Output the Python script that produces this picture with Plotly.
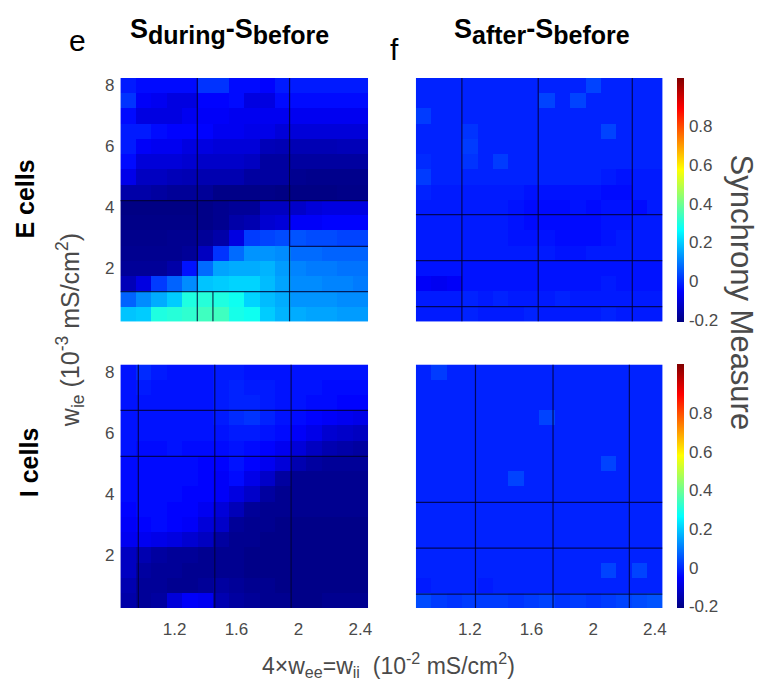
import plotly.graph_objects as go

# ---------------- data ----------------
w_ii = [0.9, 1.0, 1.1, 1.2, 1.3, 1.4, 1.5, 1.6, 1.7, 1.8, 1.9, 2.0, 2.1, 2.2, 2.3, 2.4]
w_ie = [0.5, 1.0, 1.5, 2.0, 2.5, 3.0, 3.5, 4.0, 4.5, 5.0, 5.5, 6.0, 6.5, 7.0, 7.5, 8.0]

x_tick_vals = [1.2, 1.6, 2.0, 2.4]
x_tick_text = ["1.2", "1.6", "2", "2.4"]
y_tick_vals = [2, 4, 6, 8]
y_tick_text = ["2", "4", "6", "8"]
cbar_tick_vals = [-0.2, 0, 0.2, 0.4, 0.6, 0.8]
cbar_tick_text = ["-0.2", "0", "0.2", "0.4", "0.6", "0.8"]

# E cells, S_during - S_before (rows: w_ie ascending)
e_during = [
    [0.19, 0.20, 0.30, 0.31, 0.32, 0.34, 0.34, 0.29, 0.28, 0.20, 0.17, 0.16, 0.15, 0.15, 0.14, 0.14],
    [0.07, 0.12, 0.16, 0.20, 0.30, 0.31, 0.30, 0.28, 0.21, 0.18, 0.16, 0.13, 0.13, 0.13, 0.12, 0.12],
    [-0.14, -0.09, 0.02, 0.07, 0.12, 0.19, 0.20, 0.21, 0.21, 0.18, 0.15, 0.12, 0.12, 0.11, 0.11, 0.10],
    [-0.18, -0.18, -0.18, -0.16, -0.03, 0.08, 0.15, 0.16, 0.16, 0.17, 0.14, 0.11, 0.10, 0.10, 0.09, 0.09],
    [-0.19, -0.19, -0.19, -0.19, -0.18, -0.13, 0.01, 0.08, 0.13, 0.13, 0.12, 0.08, 0.08, 0.07, 0.07, 0.07],
    [-0.195, -0.195, -0.195, -0.19, -0.19, -0.18, -0.16, -0.09, 0.02, 0.03, 0.04, 0.05, 0.04, 0.04, 0.03, 0.03],
    [-0.20, -0.20, -0.20, -0.20, -0.20, -0.20, -0.19, -0.16, -0.15, -0.11, -0.10, -0.06, -0.06, -0.05, -0.05, -0.05],
    [-0.205, -0.205, -0.205, -0.205, -0.205, -0.20, -0.19, -0.18, -0.18, -0.13, -0.13, -0.12, -0.10, -0.09, -0.09, -0.09],
    [-0.16, -0.16, -0.17, -0.18, -0.18, -0.18, -0.20, -0.20, -0.20, -0.20, -0.205, -0.205, -0.205, -0.205, -0.20, -0.20],
    [-0.08, -0.13, -0.13, -0.14, -0.145, -0.15, -0.15, -0.15, -0.17, -0.17, -0.17, -0.19, -0.195, -0.195, -0.195, -0.195],
    [-0.04, -0.10, -0.10, -0.10, -0.11, -0.12, -0.12, -0.12, -0.13, -0.17, -0.17, -0.17, -0.17, -0.17, -0.17, -0.17],
    [-0.02, -0.06, -0.07, -0.07, -0.09, -0.09, -0.10, -0.10, -0.10, -0.14, -0.145, -0.145, -0.145, -0.145, -0.14, -0.14],
    [-0.02, -0.02, -0.04, -0.05, -0.05, -0.05, -0.07, -0.07, -0.08, -0.08, -0.10, -0.10, -0.10, -0.10, -0.10, -0.10],
    [-0.04, -0.09, -0.09, -0.09, -0.07, -0.06, -0.06, -0.07, -0.07, -0.07, -0.07, -0.07, -0.07, -0.07, -0.07, -0.07],
    [0.01, -0.06, -0.07, -0.09, -0.09, -0.05, -0.05, -0.04, -0.09, -0.09, -0.04, -0.04, -0.04, -0.04, -0.04, -0.04],
    [-0.02, -0.04, -0.04, -0.04, -0.04, 0.01, 0.01, -0.04, -0.04, -0.05, -0.02, -0.02, -0.02, -0.02, -0.02, -0.02],
]

# E cells, S_after - S_before
e_after = [
    [-0.02, -0.02, -0.02, -0.01, -0.02, -0.02, -0.02, -0.01, -0.02, -0.02, -0.02, -0.02, -0.01, -0.02, -0.02, -0.02],
    [-0.02, -0.02, -0.02, -0.01, -0.02, -0.01, -0.02, -0.02, -0.02, -0.01, -0.02, -0.02, -0.02, -0.02, -0.02, -0.02],
    [-0.06, -0.07, -0.06, -0.03, -0.03, -0.03, -0.03, -0.03, -0.03, -0.03, -0.03, -0.03, -0.02, -0.03, -0.03, -0.03],
    [-0.03, -0.03, -0.03, -0.03, -0.03, -0.03, -0.03, -0.03, -0.03, -0.03, -0.03, -0.03, -0.03, -0.03, -0.03, -0.03],
    [-0.02, -0.02, -0.02, -0.02, -0.02, -0.02, -0.02, -0.02, -0.02, -0.03, -0.03, -0.02, -0.02, -0.02, -0.02, -0.02],
    [-0.02, -0.02, -0.02, -0.02, -0.02, -0.02, -0.03, -0.03, -0.03, -0.04, -0.04, -0.04, -0.03, -0.02, -0.02, -0.02],
    [-0.02, -0.02, -0.02, -0.02, -0.02, -0.02, -0.03, -0.04, -0.04, -0.04, -0.04, -0.04, -0.03, -0.03, -0.02, -0.02],
    [-0.02, -0.02, -0.02, -0.02, -0.02, -0.02, -0.03, -0.04, -0.04, -0.04, -0.03, -0.04, -0.03, -0.03, -0.04, -0.02],
    [-0.01, -0.02, -0.02, -0.02, -0.02, -0.02, -0.02, -0.03, -0.03, -0.03, -0.03, -0.03, -0.04, -0.04, -0.02, -0.02],
    [0.02, -0.01, -0.01, -0.01, -0.01, -0.01, -0.01, -0.01, -0.01, -0.01, -0.01, -0.01, -0.02, -0.03, -0.02, -0.02],
    [0.00, -0.01, -0.01, 0.01, -0.01, 0.02, -0.01, -0.01, -0.01, -0.01, -0.01, -0.01, -0.01, -0.01, -0.01, -0.01],
    [-0.01, -0.01, -0.01, 0.02, -0.01, -0.01, -0.01, -0.01, -0.01, -0.01, -0.01, -0.01, -0.01, -0.01, -0.01, -0.01],
    [-0.01, -0.01, -0.01, 0.01, -0.01, -0.01, -0.01, -0.01, -0.01, -0.01, -0.01, -0.01, 0.03, -0.01, -0.01, -0.01],
    [0.02, -0.01, -0.01, -0.01, -0.01, -0.01, -0.01, -0.01, -0.01, -0.01, -0.01, -0.01, -0.01, -0.01, -0.01, -0.01],
    [-0.01, -0.01, -0.01, -0.01, -0.01, -0.01, -0.01, -0.01, 0.03, -0.01, 0.03, -0.01, -0.01, -0.01, -0.01, -0.01],
    [-0.01, -0.01, -0.01, -0.01, -0.01, -0.01, -0.01, -0.01, -0.01, -0.01, -0.01, 0.03, -0.01, -0.01, -0.01, -0.01],
]

# I cells, S_during - S_before
i_during = [
    [-0.16, -0.18, -0.17, -0.10, -0.06, -0.07, -0.15, -0.17, -0.18, -0.19, -0.19, -0.20, -0.20, -0.19, -0.19, -0.19],
    [-0.15, -0.18, -0.18, -0.19, -0.19, -0.18, -0.17, -0.18, -0.19, -0.19, -0.20, -0.20, -0.20, -0.20, -0.20, -0.20],
    [-0.13, -0.17, -0.18, -0.18, -0.19, -0.19, -0.19, -0.19, -0.20, -0.20, -0.20, -0.20, -0.20, -0.20, -0.20, -0.20],
    [-0.13, -0.15, -0.17, -0.18, -0.18, -0.19, -0.19, -0.19, -0.20, -0.20, -0.20, -0.20, -0.20, -0.20, -0.20, -0.20],
    [-0.07, -0.07, -0.08, -0.09, -0.11, -0.13, -0.17, -0.19, -0.19, -0.20, -0.20, -0.20, -0.20, -0.20, -0.20, -0.20],
    [-0.06, -0.05, -0.04, -0.05, -0.06, -0.10, -0.12, -0.18, -0.19, -0.19, -0.20, -0.20, -0.20, -0.20, -0.20, -0.20],
    [-0.05, -0.04, -0.04, -0.05, -0.05, -0.07, -0.10, -0.14, -0.18, -0.19, -0.19, -0.19, -0.19, -0.19, -0.19, -0.19],
    [-0.04, -0.04, -0.04, -0.04, -0.05, -0.05, -0.06, -0.09, -0.12, -0.17, -0.19, -0.19, -0.19, -0.19, -0.19, -0.19],
    [-0.04, -0.04, -0.04, -0.04, -0.04, -0.05, -0.06, -0.04, -0.08, -0.12, -0.17, -0.19, -0.19, -0.19, -0.19, -0.19],
    [-0.04, -0.04, -0.04, -0.04, -0.04, -0.05, -0.05, -0.03, -0.05, -0.07, -0.10, -0.15, -0.17, -0.18, -0.18, -0.18],
    [-0.03, -0.04, -0.04, -0.03, -0.04, -0.04, -0.04, -0.03, -0.04, -0.05, -0.07, -0.10, -0.13, -0.15, -0.16, -0.17],
    [-0.03, -0.03, -0.03, -0.03, -0.03, -0.03, -0.03, -0.02, -0.02, -0.03, -0.04, -0.06, -0.08, -0.11, -0.12, -0.13],
    [-0.03, -0.03, -0.03, -0.03, -0.03, -0.03, -0.02, 0.00, 0.01, -0.01, -0.03, -0.04, -0.05, -0.06, -0.07, -0.08],
    [-0.03, -0.03, -0.03, -0.03, -0.03, -0.03, -0.02, -0.01, -0.01, -0.02, -0.03, -0.03, -0.04, -0.04, -0.05, -0.05],
    [-0.03, -0.02, -0.03, -0.03, -0.03, -0.03, -0.02, -0.01, -0.02, -0.02, -0.03, -0.03, -0.03, -0.04, -0.04, -0.04],
    [-0.03, 0.00, -0.02, -0.03, -0.03, -0.03, -0.02, -0.02, -0.03, -0.03, -0.03, -0.03, -0.03, -0.03, -0.03, -0.03],
]

# I cells, S_after - S_before
i_after = [
    [0.04, 0.02, 0.01, 0.02, 0.02, 0.02, 0.01, 0.02, 0.03, 0.01, 0.02, 0.01, 0.02, 0.03, 0.04, 0.05],
    [-0.02, -0.01, -0.01, -0.01, -0.02, -0.01, -0.01, -0.01, -0.01, -0.01, -0.01, -0.01, -0.01, -0.01, -0.01, -0.01],
    [-0.01, -0.01, -0.01, -0.01, -0.01, -0.01, -0.01, -0.01, -0.01, -0.01, -0.01, -0.01, 0.03, -0.01, 0.03, -0.01],
    [-0.01, -0.01, -0.01, -0.01, -0.01, -0.01, -0.01, -0.01, -0.01, -0.01, -0.01, -0.01, -0.01, -0.01, -0.01, -0.01],
    [-0.01, -0.01, -0.01, -0.01, -0.01, -0.01, -0.01, -0.01, -0.01, -0.01, -0.01, -0.01, -0.01, -0.01, -0.01, -0.01],
    [-0.01, -0.01, -0.01, -0.01, -0.01, -0.01, -0.01, -0.01, -0.01, -0.01, -0.01, -0.01, -0.01, -0.01, -0.01, -0.01],
    [-0.01, -0.01, -0.01, -0.01, -0.01, -0.01, -0.01, -0.01, -0.01, -0.01, -0.01, -0.01, -0.01, -0.01, -0.01, -0.01],
    [-0.01, -0.01, -0.01, -0.01, -0.01, -0.01, -0.01, -0.01, -0.01, -0.01, -0.01, -0.01, -0.01, -0.01, -0.01, -0.01],
    [-0.01, -0.01, -0.01, -0.01, -0.01, -0.01, 0.03, -0.01, -0.01, -0.01, -0.01, -0.01, -0.01, -0.01, -0.01, -0.01],
    [-0.01, -0.01, -0.01, -0.01, -0.01, -0.01, -0.01, -0.01, -0.01, -0.01, -0.01, -0.01, 0.03, -0.01, -0.01, -0.01],
    [-0.01, -0.01, -0.01, -0.01, -0.01, -0.01, -0.01, -0.01, -0.01, -0.01, -0.01, -0.01, -0.01, -0.01, -0.01, -0.01],
    [-0.01, -0.01, -0.01, -0.01, -0.01, -0.01, -0.01, -0.01, -0.01, -0.01, -0.01, -0.01, -0.01, -0.01, -0.01, -0.01],
    [-0.01, -0.01, -0.01, -0.01, -0.01, -0.01, -0.01, -0.01, 0.03, -0.01, -0.01, -0.01, -0.01, -0.01, -0.01, -0.01],
    [-0.01, -0.01, -0.01, -0.01, -0.01, -0.01, -0.01, -0.01, -0.01, -0.01, -0.01, -0.01, -0.01, -0.01, -0.01, -0.01],
    [-0.01, -0.01, -0.01, -0.01, -0.01, -0.01, -0.01, -0.01, -0.01, -0.01, -0.01, -0.01, -0.01, -0.01, -0.01, -0.01],
    [-0.01, 0.02, -0.01, -0.01, -0.01, -0.01, -0.01, -0.01, -0.01, -0.01, -0.01, -0.01, -0.01, -0.01, -0.01, -0.01],
]

# dark rendering seams visible across the image panels (data units)
seams_v = {  # panel: list of (x, y0, y1)
    "tl": [(1.347, 0.25, 8.25), (1.448, 0.25, 1.23), (1.943, 0.25, 8.25)],
    "tr": [(1.149, 0.25, 8.25), (1.644, 0.25, 8.25), (2.254, 0.25, 8.25)],
    "bl": [(0.966, 0.25, 8.25), (1.46, 0.25, 8.25), (1.953, 0.25, 8.25)],
    "br": [(1.237, 0.25, 8.25), (1.74, 0.25, 8.25), (2.235, 0.25, 8.25)],
}
seams_h = {  # panel: list of (y, x0, x1)
    "tl": [(4.22, 0.85, 2.45), (2.72, 1.943, 2.45), (1.23, 0.85, 2.45)],
    "tr": [(3.76, 0.85, 2.45), (2.25, 0.85, 2.45), (0.74, 0.85, 2.45)],
    "bl": [(6.74, 0.85, 2.45), (5.23, 0.85, 2.45)],
    "br": [(3.725, 0.85, 2.45), (2.22, 0.85, 2.45), (0.71, 0.85, 2.45)],
}

# ---------------- figure ----------------
W, H = 761, 691
Z_MIN, Z_MAX = -0.21, 1.05
jet = [[0.0, "rgb(0,0,128)"], [0.125, "rgb(0,0,255)"], [0.375, "rgb(0,255,255)"],
       [0.625, "rgb(255,255,0)"], [0.875, "rgb(255,0,0)"], [1.0, "rgb(128,0,0)"]]

def px_x(p):
    return p / W

def px_y(p):
    return 1 - p / H

FAM = "Liberation Sans, Arial, sans-serif"
TICK_FONT = dict(family=FAM, size=17, color="#4a4a4a")

def cbar(top_px, bot_px):
    return dict(
        x=px_x(681), xanchor="left", xpad=0,
        y=px_y(top_px), yanchor="top", ypad=0,
        len=(bot_px - top_px) / H, lenmode="fraction",
        thickness=7, outlinewidth=0,
        tickvals=cbar_tick_vals, ticktext=cbar_tick_text,
        ticks="outside", ticklen=2, tickcolor="rgba(0,0,0,0)", tickfont=TICK_FONT,
    )

fig = go.Figure()
panels = [
    ("tl", e_during, "x", "y", False, None),
    ("tr", e_after, "x2", "y2", True, cbar(77, 321)),
    ("bl", i_during, "x3", "y3", False, None),
    ("br", i_after, "x4", "y4", True, cbar(364, 608)),
]
for name, z, xa, ya, show, cb in panels:
    kw = dict(x=w_ii, y=w_ie, z=z, xaxis=xa, yaxis=ya, zmin=Z_MIN, zmax=Z_MAX,
              colorscale=jet, showscale=show, hoverinfo="skip")
    if cb:
        kw["colorbar"] = cb
    fig.add_trace(go.Heatmap(**kw))

top_dom = [px_y(321), px_y(77)]
bot_dom = [px_y(608), px_y(364)]
left_dom = [px_x(121), px_x(370)]
right_dom = [px_x(418), px_x(666)]

def xax(dom, anchor, labels):
    return dict(domain=dom, anchor=anchor, range=[0.85, 2.45], showgrid=False,
                zeroline=False, showline=False, ticks="", showticklabels=labels,
                ticklabelstandoff=9,
                tickvals=x_tick_vals, ticktext=x_tick_text, tickfont=TICK_FONT)

def yax(dom, anchor, labels):
    return dict(domain=dom, anchor=anchor, range=[0.25, 8.25], showgrid=False,
                zeroline=False, showline=False, ticks="", showticklabels=labels,
                ticklabelstandoff=5,
                tickvals=y_tick_vals, ticktext=y_tick_text, tickfont=TICK_FONT)

fig.update_layout(
    width=W, height=H, margin=dict(l=0, r=0, t=0, b=0),
    paper_bgcolor="white", plot_bgcolor="white", showlegend=False,
    xaxis=xax(left_dom, "y", False), yaxis=yax(top_dom, "x", True),
    xaxis2=xax(right_dom, "y2", False), yaxis2=yax(top_dom, "x2", False),
    xaxis3=xax(left_dom, "y3", True), yaxis3=yax(bot_dom, "x3", True),
    xaxis4=xax(right_dom, "y4", True), yaxis4=yax(bot_dom, "x4", False),
)

refs = {"tl": ("x", "y"), "tr": ("x2", "y2"), "bl": ("x3", "y3"), "br": ("x4", "y4")}
seam_line = dict(color="rgba(0,0,50,0.8)", width=1.2)
for p, lst in seams_v.items():
    xr, yr = refs[p]
    for xv, y0, y1 in lst:
        fig.add_shape(type="line", xref=xr, yref=yr, x0=xv, x1=xv, y0=y0, y1=y1, line=seam_line)
for p, lst in seams_h.items():
    xr, yr = refs[p]
    for yv, x0, x1 in lst:
        fig.add_shape(type="line", xref=xr, yref=yr, x0=x0, x1=x1, y0=yv, y1=yv, line=seam_line)

def sub(t, size):
    return "<sub><span style='font-size:%dpx'>%s</span></sub>" % (size, t)

ann = [
    dict(text="<b>S" + sub("during", 25) + "-S" + sub("before", 25) + "</b>", x=px_x(231), y=px_y(31),
         font=dict(family=FAM, size=27, color="black")),
    dict(text="<b>S" + sub("after", 25) + "-S" + sub("before", 25) + "</b>", x=px_x(545), y=px_y(31),
         font=dict(family=FAM, size=27, color="black")),
    dict(text="e", x=px_x(78), y=px_y(40), font=dict(family=FAM, size=30, color="black")),
    dict(text="f", x=px_x(397), y=px_y(49), font=dict(family=FAM, size=30, color="black")),
    dict(text="<b>E cells</b>", x=px_x(25), y=px_y(198), textangle=-90,
         font=dict(family=FAM, size=25, color="black")),
    dict(text="<b>I cells</b>", x=px_x(29), y=px_y(462), textangle=-90,
         font=dict(family=FAM, size=25, color="black")),
    dict(text="w<sub>ie</sub> (10<sup>-3</sup> mS/cm<sup>2</sup>)", x=px_x(70), y=px_y(330),
         textangle=-90, font=dict(family=FAM, size=25, color="#4a4a4a")),
    dict(text="4×w<sub>ee</sub>=w<sub>ii</sub>  (10<sup>-2</sup> mS/cm<sup>2</sup>)",
         x=px_x(391), y=px_y(665), font=dict(family=FAM, size=23, color="#4a4a4a")),
    dict(text="Synchrony Measure", x=px_x(745), y=px_y(292), textangle=90,
         font=dict(family=FAM, size=31, color="#4a4a4a")),
]
for a in ann:
    a.update(xref="paper", yref="paper", showarrow=False, xanchor="center", yanchor="middle")
    fig.add_annotation(**a)

fig.write_html("out.html")
